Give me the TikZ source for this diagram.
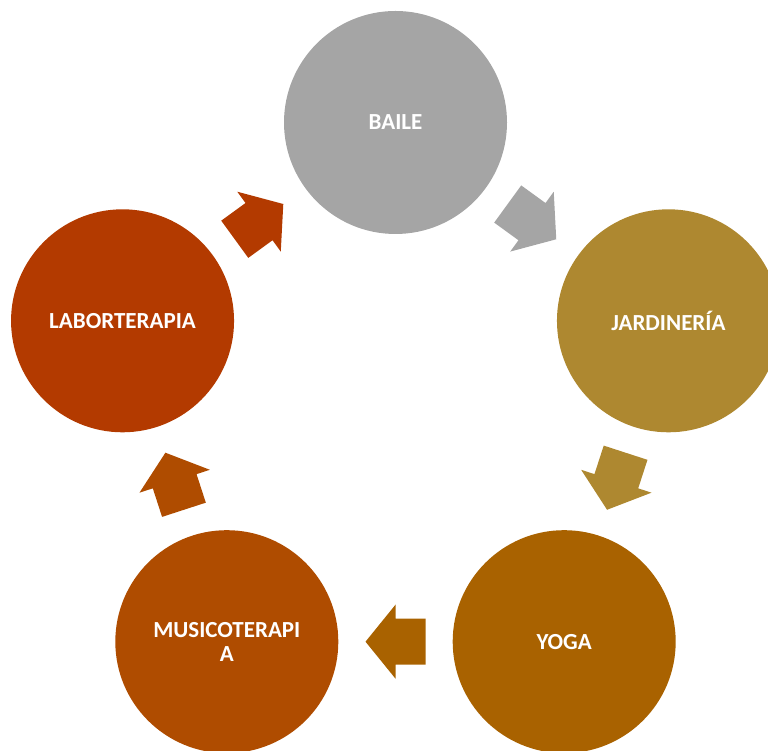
\documentclass[tikz,border=0pt]{standalone}
\usepackage{fontspec}
\setmainfont{Carlito}
\usetikzlibrary{calc}
\definecolor{cBaile}{HTML}{A5A5A5}
\definecolor{cJard}{HTML}{AE8830}
\definecolor{cYoga}{HTML}{A96200}
\definecolor{cMusic}{HTML}{AF4C00}
\definecolor{cLabor}{HTML}{B33A00}
\tikzset{
  stage/.style={circle, minimum size=223pt, inner sep=0pt, text=white, align=center,
    font=\bfseries\fontsize{23}{24}\selectfont},
}
\newcommand{\cyclearrow}[3]{%
  \fill[#3, shift={(#1)}, rotate=#2]
    (-30,-23) -- (0,-23) -- (0,-37) -- (30,0) -- (0,37) -- (0,23) -- (-30,23) -- cycle;}
\begin{document}
\begin{tikzpicture}[x=1pt, y=1pt]
\useasboundingbox (0,0) rectangle (768,751);
\clip (0,0) rectangle (768,751);
\coordinate (ctr) at (395.5,341.5);
\node[stage, fill=cBaile] (baile) at ($(ctr)+(90:287)$) {BAILE};
\node[stage, fill=cJard] (jard) at ($(ctr)+(18:287)$) {JARDINERÍA};
\node[stage, fill=cYoga] (yoga) at ($(ctr)+(-54:287)$) {YOGA};
\node[stage, fill=cMusic] (music) at ($(ctr)+(-126:287)$) {MUSICOTERAPI\\A};
\node[stage, fill=cLabor] (labor) at ($(ctr)+(162:287)$) {LABORTERAPIA};
\path (baile.center) -- coordinate[midway] (m1) (jard.center);
\path (jard.center) -- coordinate[midway] (m2) (yoga.center);
\path (yoga.center) -- coordinate[midway] (m3) (music.center);
\path (music.center) -- coordinate[midway] (m4) (labor.center);
\path (labor.center) -- coordinate[midway] (m5) (baile.center);
\cyclearrow{m1}{-36}{cBaile}
\cyclearrow{m2}{-108}{cJard}
\cyclearrow{m3}{180}{cYoga}
\cyclearrow{m4}{108}{cMusic}
\cyclearrow{m5}{36}{cLabor}
\end{tikzpicture}
\end{document}
